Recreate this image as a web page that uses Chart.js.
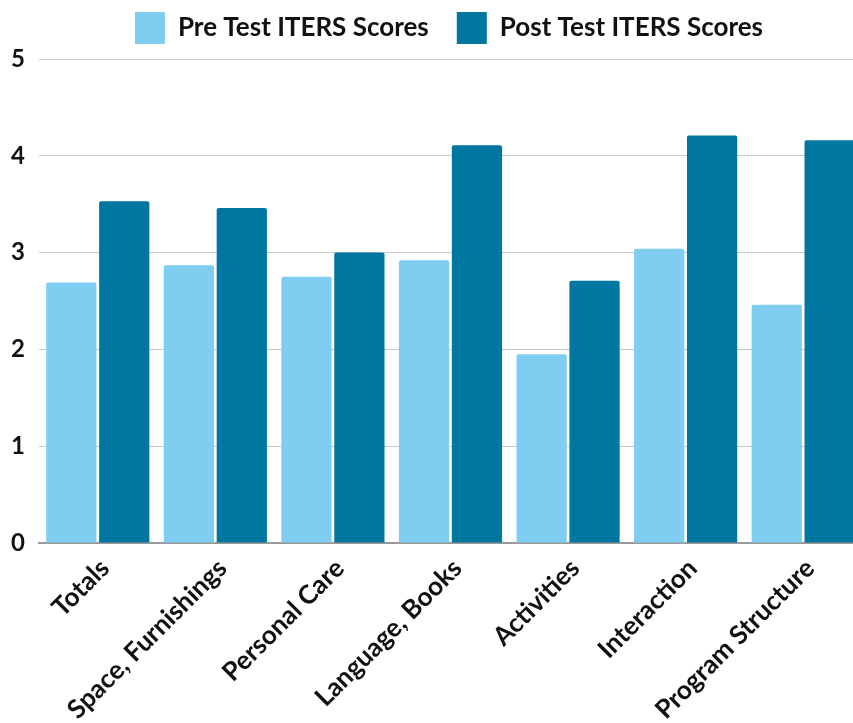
<!DOCTYPE html>
<html>
<head>
<meta charset="utf-8">
<script src="https://cdn.jsdelivr.net/npm/chart.js@4.4.0/dist/chart.umd.min.js"></script>
<style>
  html, body { margin: 0; padding: 0; background: #fff; overflow: hidden; }
  #wrap { width: 862px; height: 723px; position: relative; }
</style>
</head>
<body>
<div id="wrap"><canvas id="chart"></canvas></div>
<script>
const categories = ["Totals", "Space, Furnishings", "Personal Care", "Language, Books", "Activities", "Interaction", "Program Structure"];
const preScores = [2.69, 2.87, 2.75, 2.92, 1.95, 3.04, 2.46];
const postScores = [3.53, 3.46, 3.00, 4.11, 2.71, 4.21, 4.16];
const seriesNames = ["Pre Test ITERS Scores", "Post Test ITERS Scores"];
const yTicks = [0, 1, 2, 3, 4, 5];

const font = "Lato, 'Open Sans', sans-serif";

// keep the legend compact vertically and nudge it right like the original
const legendTweak = {
  id: "legendTweak",
  afterInit(chart) {
    const lg = chart.legend;
    const fit = lg.fit;
    lg.fit = function () {
      fit.call(this);
      this.height = 75;
    };
  },
  beforeDraw(chart) {
    const lg = chart.legend;
    if (!lg._shifted) {
      lg.left += 18;
      lg.right += 18;
      lg._shifted = true;
    }
  },
  afterLayout(chart) {
    chart.legend._shifted = false;
  }
};

new Chart(document.getElementById("chart"), {
  type: "bar",
  data: {
    labels: categories,
    datasets: [
      { label: seriesNames[0], data: preScores, backgroundColor: "#7fcdf1", borderRadius: 2 },
      { label: seriesNames[1], data: postScores, backgroundColor: "#0077a1", borderRadius: 2 }
    ]
  },
  plugins: [legendTweak],
  options: {
    responsive: true,
    maintainAspectRatio: false,
    animation: false,
    categoryPercentage: 0.9,
    barPercentage: 0.95,
    layout: { padding: { top: -16, left: 0, right: 0, bottom: 0 } },
    plugins: {
      tooltip: { enabled: false },
      legend: {
        position: "top",
        labels: {
          boxWidth: 30,
          boxHeight: 32,
          padding: 28,
          color: "#111",
          font: { family: font, size: 26, weight: "bold" }
        }
      }
    },
    scales: {
      y: {
        min: 0,
        max: 5,
        afterBuildTicks: scale => { scale.ticks = yTicks.map(v => ({ value: v })); },
        afterFit: scale => { scale.width = 39; },
        border: { display: false },
        grid: { color: "#c8c8c8", lineWidth: 1, drawTicks: false },
        ticks: {
          color: "#111",
          padding: 14,
          font: { family: font, size: 24, weight: "bold" }
        }
      },
      x: {
        afterFit: scale => { scale.height = 180; },
        border: { display: true, color: "#9a9a9a", width: 2 },
        grid: { display: false },
        ticks: {
          color: "#111",
          minRotation: 45,
          maxRotation: 45,
          autoSkip: false,
          padding: 2,
          labelOffset: 7,
          font: { family: font, size: 26, weight: "bold" }
        }
      }
    }
  }
});
</script>
</body>
</html>
